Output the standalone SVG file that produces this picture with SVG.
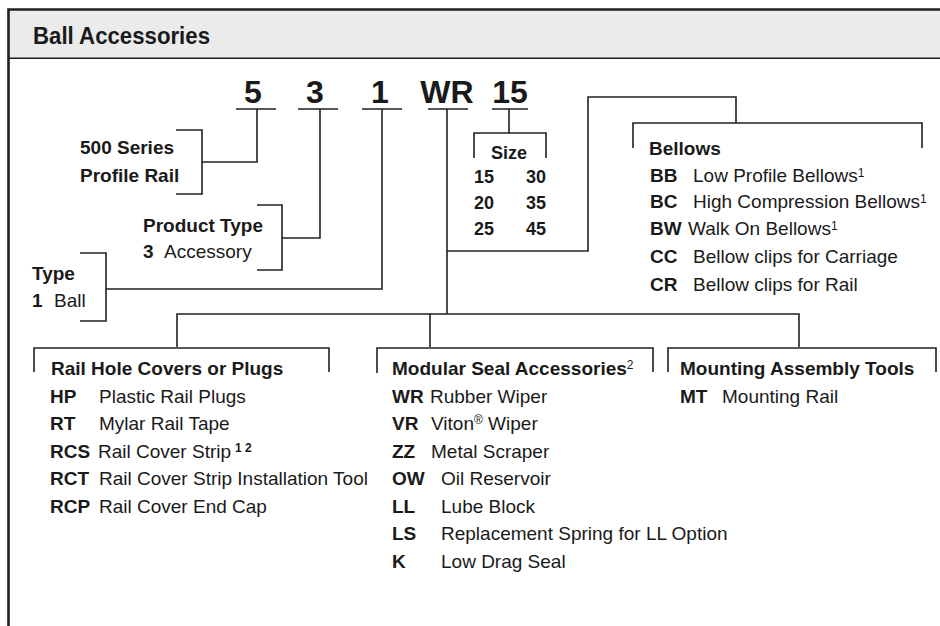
<svg xmlns="http://www.w3.org/2000/svg" width="940" height="626" viewBox="0 0 940 626">
<style>
  text { font-family: "Liberation Sans", Arial, sans-serif; fill: #1a1a1a; font-size: 19px; }
  .b { font-weight: bold; }
  .big { font-weight: bold; font-size: 32px; }
  .hdr { font-weight: bold; font-size: 23px; }
  .sz { font-weight: bold; font-size: 18px; }
  .ln { fill: none; stroke: #231f20; stroke-width: 1.6; }
  .sup { font-size: 12px; }
</style>
<rect x="9" y="10" width="931" height="48" fill="#ebebeb"/>
<path d="M8.5,626 V9.5 H940" fill="none" stroke="#231f20" stroke-width="2.6"/>
<path d="M9,58.3 H940" fill="none" stroke="#231f20" stroke-width="1.6"/>
<text class="hdr" x="33" y="43.5" textLength="177" lengthAdjust="spacingAndGlyphs">Ball Accessories</text>

<g id="code">
  <text class="big" x="253" y="103" text-anchor="middle">5</text>
  <text class="big" x="315" y="103" text-anchor="middle">3</text>
  <text class="big" x="380" y="103" text-anchor="middle">1</text>
  <text class="big" x="447" y="103" text-anchor="middle">WR</text>
  <text class="big" x="510" y="103" text-anchor="middle">15</text>
  <path class="ln" d="M236,109 H276 M298,109 H338 M362,109 H402 M428,109 H468 M492,109 H528"/>
</g>

<g id="connectors">
  <path class="ln" d="M257,109 V162 H202"/>
  <path class="ln" d="M320,109 V238 H282"/>
  <path class="ln" d="M382,109 V289 H106"/>
  <path class="ln" d="M509,109 V133"/>
  <path class="ln" d="M447,109 V314"/>
  <path class="ln" d="M447,251 H588 V97 H736 V123"/>
  <path class="ln" d="M177,347 V314 H799 V347 M430,314 V347"/>
</g>

<g id="series">
  <path class="ln" d="M176,130 H202 V194 H176"/>
  <text class="b" x="80" y="154">500 Series</text>
  <text class="b" x="80" y="182">Profile Rail</text>
</g>

<g id="product-type">
  <path class="ln" d="M257,205 H282 V270 H257"/>
  <text class="b" x="143" y="232">Product Type</text>
  <text class="b" x="143" y="258">3</text>
  <text x="164" y="258">Accessory</text>
</g>

<g id="type">
  <path class="ln" d="M80,253 H106 V321 H80"/>
  <text class="b" x="32" y="280">Type</text>
  <text class="b" x="32" y="307">1</text>
  <text x="54" y="307">Ball</text>
</g>

<g id="size">
  <path class="ln" d="M474,158 V133 H546 V158"/>
  <text class="sz" x="509" y="159" text-anchor="middle">Size</text>
  <text class="sz" x="474" y="183">15</text>
  <text class="sz" x="526" y="183">30</text>
  <text class="sz" x="474" y="209">20</text>
  <text class="sz" x="526" y="209">35</text>
  <text class="sz" x="474" y="235">25</text>
  <text class="sz" x="526" y="235">45</text>
</g>

<g id="bellows">
  <path class="ln" d="M633,148 V123 H922 V148"/>
  <text class="b" x="649" y="155">Bellows</text>
  <text class="b" x="650" y="182">BB</text>
  <text x="693" y="182">Low Profile Bellows<tspan class="sup" dy="-5">1</tspan></text>
  <text class="b" x="650" y="208">BC</text>
  <text x="693" y="208">High Compression Bellows<tspan class="sup" dy="-5">1</tspan></text>
  <text class="b" x="650" y="235">BW</text>
  <text x="688" y="235">Walk On Bellows<tspan class="sup" dy="-5">1</tspan></text>
  <text class="b" x="650" y="263">CC</text>
  <text x="693" y="263">Bellow clips for Carriage</text>
  <text class="b" x="650" y="291">CR</text>
  <text x="693" y="291">Bellow clips for Rail</text>
</g>

<g id="rail-hole-covers">
  <path class="ln" d="M34,372 V348 H329 V372"/>
  <text class="b" x="51" y="375">Rail Hole Covers or Plugs</text>
  <text class="b" x="50" y="403">HP</text>
  <text x="99" y="403">Plastic Rail Plugs</text>
  <text class="b" x="50" y="430">RT</text>
  <text x="99" y="430">Mylar Rail Tape</text>
  <text class="b" x="50" y="457.5">RCS</text>
  <text x="98" y="457.5">Rail Cover Strip<tspan class="sup b" dx="4" dy="-6">1 2</tspan></text>
  <text class="b" x="50" y="485">RCT</text>
  <text x="99" y="485">Rail Cover Strip Installation Tool</text>
  <text class="b" x="50" y="512.5">RCP</text>
  <text x="99" y="512.5">Rail Cover End Cap</text>
</g>

<g id="modular-seal">
  <path class="ln" d="M377,373 V348 H653 V372"/>
  <text class="b" x="392" y="375">Modular Seal Accessories<tspan class="sup" style="font-weight:normal" dy="-6">2</tspan></text>
  <text class="b" x="392" y="403">WR</text>
  <text x="430" y="403">Rubber Wiper</text>
  <text class="b" x="392" y="430">VR</text>
  <text x="431" y="430">Viton<tspan class="sup" dy="-6">®</tspan><tspan dy="6"> Wiper</tspan></text>
  <text class="b" x="392" y="457.5">ZZ</text>
  <text x="431" y="457.5">Metal Scraper</text>
  <text class="b" x="392" y="485">OW</text>
  <text x="441" y="485">Oil Reservoir</text>
  <text class="b" x="392" y="512.5">LL</text>
  <text x="441" y="512.5">Lube Block</text>
  <text class="b" x="392" y="540">LS</text>
  <text x="441" y="540">Replacement Spring for LL Option</text>
  <text class="b" x="392" y="567.5">K</text>
  <text x="441" y="567.5">Low Drag Seal</text>
</g>

<g id="mounting-tools">
  <path class="ln" d="M668,372 V348 H936 V372"/>
  <text class="b" x="680" y="375">Mounting Assembly Tools</text>
  <text class="b" x="680" y="403">MT</text>
  <text x="722" y="403">Mounting Rail</text>
</g>
</svg>
